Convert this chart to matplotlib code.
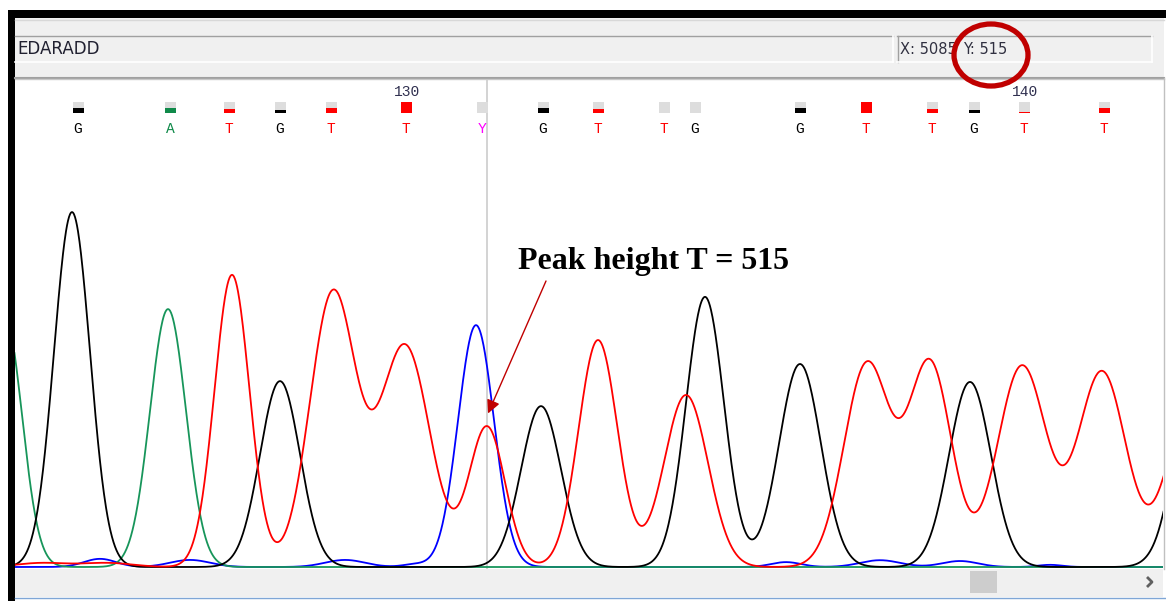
import numpy as np
import matplotlib
matplotlib.use("Agg")
import matplotlib.pyplot as plt
from matplotlib.patches import Rectangle, Ellipse
from matplotlib.transforms import blended_transform_factory

# ---------------- data ----------------
sample_name = "EDARADD"
cursor_x = 5085
cursor_y = 515
x_range = (4613, 5761)

# peak tables: centre (scan), height (signal), sigma (scans)
g_pos = [4670, 4878, 5139, 5303, 5398, 5568, 5800]
g_hgt = [1306, 684, 592, 994, 747, 681, 940]
g_sig = [18, 20, 20, 19, 21, 21, 22]

a_pos = [4603, 4766]
a_hgt = [920, 949]
a_sig = [17, 18]

c_pos = [5074, 4698, 4788, 4943, 5013, 5384, 5478, 5558, 5648]
c_hgt = [890, 30, 26, 26, 10, 18, 25, 22, 8]
c_sig = [18, 16, 20, 20, 12, 15, 20, 18, 12]

t_pos = [4830, 4931, 5003, 5085, 5196, 5284, 5465, 5528, 5620, 5700, 5790,
         4640, 4705]
t_hgt = [1075, 1008, 813, 515, 835, 633, 747, 747, 740, 718, 620,
         15, 15]
t_sig = [17.5, 23, 25, 18, 19.5, 22, 23, 21.5, 24.5, 24, 24,
         25, 25]

# base calls
call_pos = [4676, 4768, 4827, 4878, 4929, 5004, 5080, 5141, 5196, 5262,
            5293, 5398, 5464, 5530, 5572, 5622, 5702]
call_base = ["G", "A", "T", "G", "T", "T", "Y", "G", "T", "T",
             "G", "G", "T", "T", "G", "T", "T"]
call_qual = [0.5, 0.5, 0.4, 0.3, 0.5, 1.0, 0.0, 0.5, 0.35, 0.0,
             0.0, 0.5, 1.0, 0.35, 0.3, 0.1, 0.45]
pos_labels = ["130", "140"]
pos_label_x = [5005, 5623]

base_colors = {"G": "#000000", "A": "#108a4a", "T": "#ff0000",
               "C": "#0000ff", "Y": "#ff00ff"}
trace_colors = {"G": "#000000", "A": "#17955a", "T": "#ff0000", "C": "#0000ff"}

# ---------------- figure ----------------
W, H = 1166, 601
fig = plt.figure(figsize=(W / 100, H / 100), dpi=100)
fig.patch.set_facecolor("white")

bg = fig.add_axes([0, 0, 1, 1], zorder=0)
bg.set_xlim(0, W)
bg.set_ylim(H, 0)
bg.axis("off")

def rect(ax, x0, y0, x1, y1, **kw):
    ax.add_patch(Rectangle((x0, y0), x1 - x0, y1 - y0, **kw))

# outer frame
rect(bg, 8, 10, W, 18, color="black", lw=0)
rect(bg, 8, 10, 15, H, color="black", lw=0)
# toolbar
rect(bg, 15, 18, 1164, 79, color="#f0f0f0", lw=0)
bg.plot([15, 1164], [20, 20], color="#d8d8d8", lw=1)
# name field
bg.plot([15, 893], [35.5, 35.5], color="#a0a0a0", lw=1)
bg.plot([15, 893], [61.5, 61.5], color="#ffffff", lw=1.2)
bg.plot([893, 893], [35.5, 61.5], color="#ffffff", lw=1.2)
# coordinate field
bg.plot([897, 1152], [35.5, 35.5], color="#a0a0a0", lw=1)
bg.plot([897.5, 897.5], [35.5, 61.5], color="#a0a0a0", lw=1)
bg.plot([897, 1152], [61.5, 61.5], color="#ffffff", lw=1.2)
bg.plot([1152, 1152], [35.5, 61.5], color="#ffffff", lw=1.2)
bg.plot([15, 1164], [77.5, 77.5], color="#a0a0a0", lw=1.5)
bg.plot([15, 1164], [79.2, 79.2], color="#c8c8c8", lw=1)
bg.text(17, 49, sample_name, fontsize=12, family="DejaVu Sans",
        color="#202030", va="center", ha="left")
bg.text(900, 49, f"X: {cursor_x}", fontsize=10.5, family="DejaVu Sans",
        color="#303040", va="center", ha="left")
bg.text(963, 49, f"Y: {cursor_y}", fontsize=10.5, family="DejaVu Sans",
        color="#303040", va="center", ha="left")
# chart background
rect(bg, 15, 80, 1163, 569, color="white", lw=0)
bg.plot([1163.5, 1163.5], [78, 569], color="#c0c0c0", lw=1)
# scroll bar
rect(bg, 15, 569, 1163, 597, color="#f0f0f0", lw=0)
rect(bg, 970, 571, 997, 593, color="#cdcdcd", lw=0)
bg.plot([1147, 1152, 1147], [577, 582, 587], color="#606060", lw=2,
        solid_capstyle="butt")
bg.plot([15, W], [597.5, 597.5], color="#7fa6d6", lw=1)

# ---------------- traces ----------------
ax = fig.add_axes([15 / W, (H - 569) / H, (1163 - 15) / W, (569 - 80) / H],
                  zorder=1)
ax.patch.set_visible(False)
for s in ax.spines.values():
    s.set_visible(False)
ax.set_xticks([])
ax.set_yticks([])
scale = 3.68  # signal units per pixel
ax.set_xlim(*x_range)
ax.set_ylim(-2 * scale, (567 - 80) * scale)

x = np.arange(x_range[0] - 5, x_range[1] + 5, 0.5)

def trace(pos, hgt, sig):
    y = np.zeros_like(x)
    for p, h, s in zip(pos, hgt, sig):
        y += h * np.exp(-0.5 * ((x - p) / s) ** 2)
    return y

ax.axvline(cursor_x, color="#cccccc", lw=1.2, zorder=1)
for key, (pos, hgt, sig) in {"C": (c_pos, c_hgt, c_sig),
                             "A": (a_pos, a_hgt, a_sig),
                             "G": (g_pos, g_hgt, g_sig),
                             "T": (t_pos, t_hgt, t_sig)}.items():
    ax.plot(x, trace(pos, hgt, sig), color=trace_colors[key], lw=1.3,
            zorder=2, solid_joinstyle="miter")

# base calls with quality boxes
tr = blended_transform_factory(ax.transData, bg.transData)
for p, b, q in zip(call_pos, call_base, call_qual):
    ax.add_patch(Rectangle((p - 5.5, 102), 11, 11, transform=tr,
                           facecolor="#dddddd", edgecolor="none",
                           clip_on=False, zorder=3))
    if q > 0:
        ax.add_patch(Rectangle((p - 5.5, 113 - 11 * q), 11, 11 * q,
                               transform=tr, facecolor=base_colors[b],
                               edgecolor="none", clip_on=False, zorder=4))
    ax.text(p, 129, b, transform=tr, ha="center", va="center",
            family="Liberation Mono", fontsize=10.5, color=base_colors[b],
            clip_on=False, zorder=4)
for lx, lab in zip(pos_label_x, pos_labels):
    ax.text(lx, 92, lab, transform=tr, ha="center", va="center",
            family="Liberation Mono", fontsize=10.5, color="#303050",
            clip_on=False)

# ---------------- annotations ----------------
top = fig.add_axes([0, 0, 1, 1], zorder=5)
top.set_xlim(0, W)
top.set_ylim(H, 0)
top.axis("off")
top.patch.set_visible(False)

top.add_patch(Ellipse((991, 55), 74, 62, fill=False, edgecolor="#c00000",
                      lw=3.8))
top.text(653, 261, f"Peak height T = {cursor_y}", family="Liberation Serif",
         fontweight="bold", fontsize=23, ha="center", va="center",
         color="black")
ax.annotate("", xy=(cursor_x + 1, 565), xycoords="data",
            xytext=(546, 281), textcoords=bg.transData,
            arrowprops=dict(arrowstyle="-|>", color="#c00000", lw=1,
                            mutation_scale=20, shrinkA=0, shrinkB=0),
            annotation_clip=False, zorder=6)

fig.savefig("out.png", dpi=100)
